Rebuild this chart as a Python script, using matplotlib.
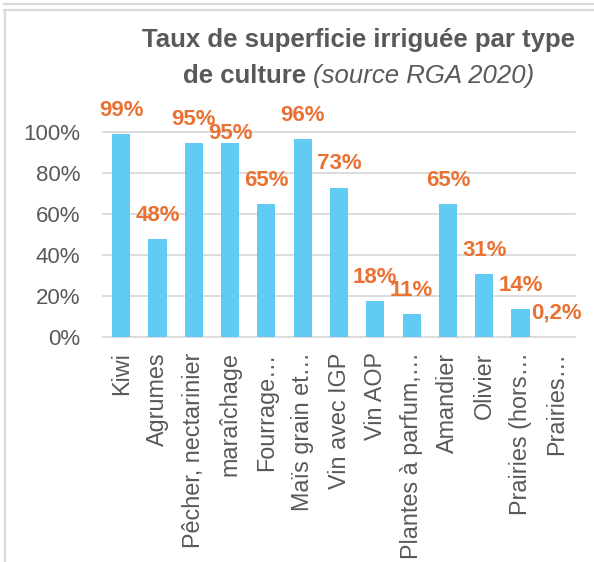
import matplotlib
matplotlib.use("Agg")
import matplotlib.pyplot as plt
from matplotlib.lines import Line2D
from matplotlib.ticker import PercentFormatter

# données (RGA 2020)
cultures = ["Kiwi", "Agrumes", "Pêcher, nectarinier", "maraîchage", "Fourrage…",
            "Maïs grain et…", "Vin avec IGP", "Vin AOP", "Plantes à parfum,…",
            "Amandier", "Olivier", "Prairies (hors…", "Prairies…"]
taux = [0.99, 0.476, 0.947, 0.946, 0.648, 0.965, 0.728, 0.175, 0.112,
        0.648, 0.306, 0.136, 0.002]
yticks = [0, 0.2, 0.4, 0.6, 0.8, 1.0]

# décalage vertical des étiquettes (points)
label_dy = [13] * len(taux)
label_dy[3] = 2.5

grey = "#595959"
bar_col = "#61CBF3"
orange = "#E97132"
grid_col = "#D9D9D9"

plt.rcParams["font.family"] = ["Liberation Sans", "DejaVu Sans"]

fig = plt.figure(figsize=(5.94, 5.62), dpi=100)
ax = fig.add_axes([103 / 594, 1 - 337 / 562, 472 / 594, (337 - 131.7) / 562])

x = list(range(len(cultures)))
ax.bar(x, taux, width=0.5, color=bar_col, zorder=3)

def fmt(v):
    if v < 0.01:
        return f"{v * 100:.1f}".replace(".", ",") + "%"
    return f"{v * 100:.0f}%"

for i, v in enumerate(taux):
    ax.annotate(fmt(v), (i, v), xytext=(0, label_dy[i]), textcoords="offset points",
                ha="center", va="baseline", color=orange, fontsize=16,
                fontweight="bold", annotation_clip=False, zorder=5)

ax.set_xlim(-0.5, len(cultures) - 0.5)
ax.set_ylim(0, 1)
ax.set_yticks(yticks)
ax.yaxis.set_major_formatter(PercentFormatter(1.0, decimals=0))
ax.set_xticks(x)
ax.set_xticklabels(cultures, rotation=90, fontsize=16.8, color=grey)
ax.tick_params(axis="x", length=0, pad=11)
ax.tick_params(axis="y", length=0, pad=16.5, labelsize=16, labelcolor=grey)
for s in ax.spines.values():
    s.set_visible(False)
ax.yaxis.grid(True, color=grid_col, linewidth=1.3, zorder=0)
for gl in ax.get_ygridlines():
    gl.set_clip_on(False)
ax.set_axisbelow(True)

# titre
fig.text(359 / 594, 1 - 47 / 562, "Taux de superficie irriguée par type",
         ha="center", va="baseline", fontsize=18.5, fontweight="bold", color=grey)
t1 = fig.text(0, 1 - 83 / 562, "de culture ", ha="left", va="baseline",
              fontsize=18.5, fontweight="bold", color=grey)
t2 = fig.text(0, 1 - 83 / 562, "(source RGA 2020)", ha="left", va="baseline",
              fontsize=18.5, fontstyle="italic", color=grey)
r = fig.canvas.get_renderer()
w1 = t1.get_window_extent(r).width
w2 = t2.get_window_extent(r).width
x0 = 358.5 - (w1 + w2) / 2
t1.set_x(x0 / 594)
t2.set_x((x0 + w1) / 594)

# cadres
for (xs, ys) in [((4 / 594, 1), (1 - 4 / 562, 1 - 4 / 562)),
                 ((4 / 594, 1), (1 - 10 / 562, 1 - 10 / 562)),
                 ((4.5 / 594, 4.5 / 594), (1 - 10 / 562, 0))]:
    fig.add_artist(Line2D(xs, ys, color=grid_col, linewidth=1.6))

fig.savefig("out.png", dpi=100)
